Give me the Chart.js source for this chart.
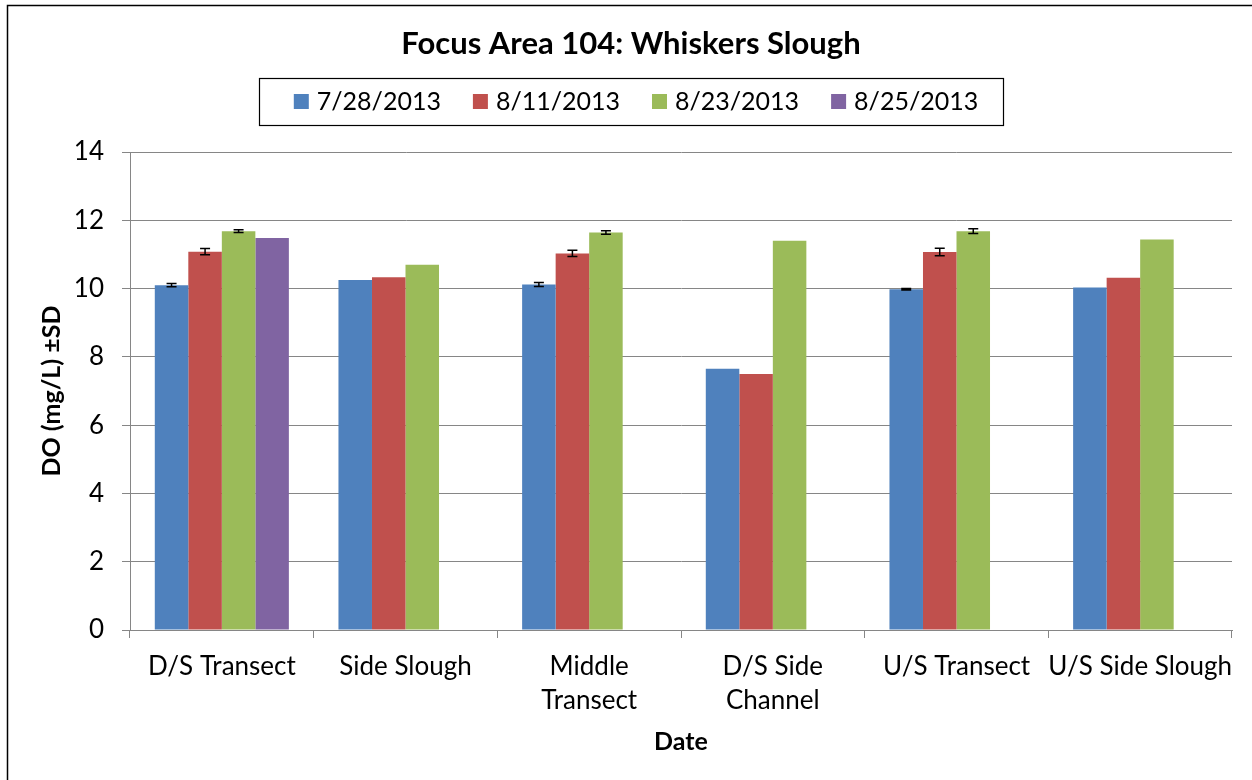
<!DOCTYPE html>
<html lang="en">
<head>
    <meta charset="UTF-8">
    <title>Focus Area 104: Whiskers Slough</title>
    <script src="https://cdn.jsdelivr.net/npm/chart.js"></script>
    <style>
        body {
            margin: 0;
            background: #FFFFFF;
        }
        #chartBox {
            width: 1252px;
            height: 780px;
        }
    </style>
</head>
<body>
    <div id="chartBox">
        <canvas id="doChart" width="1252" height="780"></canvas>
    </div>

    <script>
        // 구역별 DO 값 (mg/L)
        const sites = ['D/S Transect', 'Side Slough', ['Middle', 'Transect'], ['D/S Side', 'Channel'], 'U/S Transect', 'U/S Side Slough'];
        const dates = ['7/28/2013', '8/11/2013', '8/23/2013', '8/25/2013'];

        const do0728 = [10.10, 10.25, 10.12, 7.65, 9.98, 10.03];
        const do0811 = [11.08, 10.33, 11.03, 7.50, 11.07, 10.32];
        const do0823 = [11.68, 10.70, 11.64, 11.40, 11.68, 11.44];
        const do0825 = [11.48, null, null, null, null, null];

        // 표준편차 (측정 반복이 있는 구역만)
        const sd0728 = [0.05, null, 0.06, null, 0.02, null];
        const sd0811 = [0.09, null, 0.09, null, 0.11, null];
        const sd0823 = [0.04, null, 0.05, null, 0.07, null];
        const sd0825 = [null, null, null, null, null, null];

        const yTicks = [0, 2, 4, 6, 8, 10, 12, 14];

        const colors = ['#4F81BD', '#C0504D', '#9BBB59', '#8064A2'];
        const FONT = 'Lato, "Open Sans", sans-serif';

        const seriesValues = [do0728, do0811, do0823, do0825];
        const seriesSd = [sd0728, sd0811, sd0823, sd0825];

        // 오차 막대 그리기
        const errorBars = {
            id: 'errorBars',
            afterDatasetsDraw(chart) {
                const ctx = chart.ctx;
                const yScale = chart.scales.y;
                ctx.save();
                ctx.strokeStyle = '#000000';
                ctx.lineWidth = 1.5;
                chart.data.datasets.forEach((ds, di) => {
                    const meta = chart.getDatasetMeta(di);
                    ds.sd.forEach((sd, i) => {
                        if (sd == null || ds.data[i] == null) return;
                        const x = meta.data[i].x;
                        const yTop = yScale.getPixelForValue(ds.data[i] + sd);
                        const yBot = yScale.getPixelForValue(ds.data[i] - sd);
                        ctx.beginPath();
                        ctx.moveTo(x, yTop);
                        ctx.lineTo(x, yBot);
                        ctx.moveTo(x - 5, yTop);
                        ctx.lineTo(x + 5, yTop);
                        ctx.moveTo(x - 5, yBot);
                        ctx.lineTo(x + 5, yBot);
                        ctx.stroke();
                    });
                });
                ctx.restore();
            }
        };

        // 제목, 범례 상자, 바깥 테두리
        const frame = {
            id: 'frame',
            afterDraw(chart) {
                const ctx = chart.ctx;
                ctx.save();

                ctx.strokeStyle = '#000000';
                ctx.lineWidth = 1.5;
                ctx.beginPath();
                ctx.moveTo(7.5, 800);
                ctx.lineTo(7.5, 5.5);
                ctx.lineTo(1260, 5.5);
                ctx.stroke();

                ctx.fillStyle = '#000000';
                ctx.textAlign = 'center';
                ctx.textBaseline = 'middle';
                ctx.font = 'bold 31px ' + FONT;
                ctx.fillText('Focus Area 104: Whiskers Slough', 631, 44);

                // 범례
                ctx.font = '25px ' + FONT;
                const box = 15, gapText = 8, gapItem = 32;
                const items = chart.data.datasets.map(ds => ({
                    label: ds.label,
                    color: ds.backgroundColor,
                    w: box + gapText + ctx.measureText(ds.label).width
                }));
                const total = items.reduce((a, it) => a + it.w, 0) + gapItem * (items.length - 1);
                let x = 636 - total / 2;
                const cy = 101;
                ctx.strokeStyle = '#000000';
                ctx.lineWidth = 1.2;
                ctx.strokeRect(Math.round(x - 35) + 0.5, 78.5, Math.round(total + 60), 47);
                ctx.textAlign = 'left';
                items.forEach(it => {
                    ctx.fillStyle = it.color;
                    ctx.fillRect(x, cy - 7, box, box);
                    ctx.fillStyle = '#000000';
                    ctx.fillText(it.label, x + box + gapText, cy + 1);
                    x += it.w + gapItem;
                });

                ctx.restore();
            }
        };

        const datasets = dates.map((d, i) => ({
            label: d,
            data: seriesValues[i],
            sd: seriesSd[i],
            backgroundColor: colors[i],
            borderWidth: 0,
            barPercentage: 1.0,
            categoryPercentage: 0.73
        }));

        new Chart(document.getElementById('doChart'), {
            type: 'bar',
            data: { labels: sites, datasets: datasets },
            options: {
                responsive: false,
                animation: false,
                layout: { padding: { top: 152, left: 10, right: 20, bottom: 0 } },
                plugins: {
                    legend: { display: false },
                    title: { display: false },
                    tooltip: { enabled: false }
                },
                scales: {
                    x: {
                        grid: {
                            offset: true,
                            drawOnChartArea: false,
                            drawTicks: true,
                            tickLength: 8,
                            color: '#868686'
                        },
                        border: { color: '#868686', width: 1 },
                        ticks: {
                            color: '#000000',
                            font: { family: FONT, size: 26, lineHeight: 1.3 },
                            padding: 12,
                            maxRotation: 0,
                            autoSkip: false
                        },
                        title: {
                            display: true,
                            text: 'Date',
                            color: '#000000',
                            font: { family: FONT, size: 25, weight: 'bold' },
                            padding: { top: 0, bottom: 23 }
                        },
                        afterFit(scale) { scale.height = 150; }
                    },
                    y: {
                        min: 0,
                        max: 14,
                        afterBuildTicks(scale) {
                            scale.ticks = yTicks.map(v => ({ value: v }));
                        },
                        grid: {
                            color: '#868686',
                            tickLength: 8,
                            drawTicks: true
                        },
                        border: { color: '#868686', width: 1 },
                        ticks: {
                            color: '#000000',
                            font: { family: FONT, size: 26 },
                            padding: 18
                        },
                        title: {
                            display: true,
                            text: 'DO (mg/L) ±SD',
                            color: '#000000',
                            font: { family: FONT, size: 25, weight: 'bold' },
                            padding: 27
                        },
                        afterFit(scale) { scale.width = 120; }
                    }
                }
            },
            plugins: [errorBars, frame]
        });
    </script>
</body>
</html>
